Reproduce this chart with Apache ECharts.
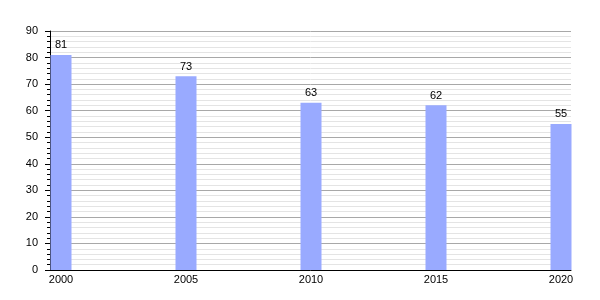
<!DOCTYPE html>
<html><head><meta charset="utf-8">
<script src="https://cdn.jsdelivr.net/npm/echarts@6/dist/echarts.min.js"></script>
<style>html,body{margin:0;padding:0;background:#fff}#c{width:600px;height:300px}</style>
</head><body><div id="c"></div>
<script>
const years = [2000, 2005, 2010, 2015, 2020];
const values = [81, 73, 63, 62, 55];
const yTicks = [0, 10, 20, 30, 40, 50, 60, 70, 80, 90];

const chart = echarts.init(document.getElementById('c'), null, {renderer: 'canvas'});
const font = 'Liberation Sans, Arial, sans-serif';
chart.setOption({
  animation: false,
  grid: {left: 50, right: 29, top: 31, bottom: 30, containLabel: false},
  xAxis: {
    type: 'value', min: 1999.56, max: 2020.4,
    axisLine: {show: true, onZero: false, lineStyle: {color: '#000', width: 1}},
    axisTick: {show: false},
    splitLine: {show: false},
    axisLabel: {customValues: years, color: '#000', fontFamily: font, fontSize: 11, margin: 4,
      formatter: v => String(Math.round(v))}
  },
  yAxis: {
    type: 'value', min: yTicks[0], max: yTicks[yTicks.length - 1], interval: 10,
    axisLine: {show: true, lineStyle: {color: '#000', width: 1}},
    axisTick: {show: true, length: 5, lineStyle: {color: '#000'}},
    minorTick: {show: true, splitNumber: 5, length: 3, lineStyle: {color: '#000'}},
    splitLine: {show: true, lineStyle: {color: '#a8a8a8', width: 1}},
    minorSplitLine: {show: true, lineStyle: {color: '#e4e4e4', width: 1}},
    axisLabel: {color: '#000', fontFamily: font, fontSize: 11, margin: 12}
  },
  series: [{
    type: 'bar',
    data: years.map((y, i) => [y, values[i]]),
    barWidth: 21,
    itemStyle: {color: '#99aaff'},
    label: {show: true, position: 'top', distance: 4, color: '#000', fontFamily: font, fontSize: 11}
  }]
});
</script></body></html>
